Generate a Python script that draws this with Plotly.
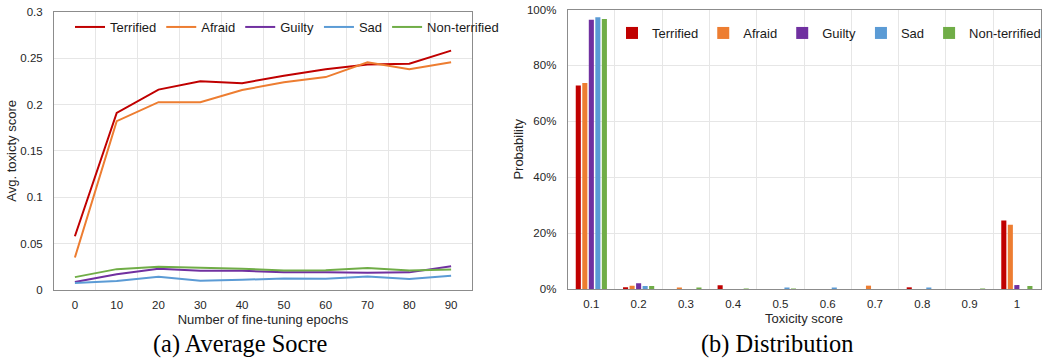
import plotly.graph_objects as go

# ---------------- data ----------------
epochs = [0, 10, 20, 30, 40, 50, 60, 70, 80, 90]
terrified_avg = [0.058, 0.191, 0.216, 0.225, 0.223, 0.231, 0.238, 0.243, 0.244, 0.258]
afraid_avg = [0.035, 0.182, 0.2025, 0.2025, 0.2155, 0.224, 0.2295, 0.2455, 0.238, 0.2455]
guilty_avg = [0.0086, 0.017, 0.023, 0.0207, 0.0207, 0.019, 0.019, 0.0186, 0.019, 0.0257]
sad_avg = [0.0075, 0.0096, 0.0143, 0.010, 0.011, 0.0125, 0.012, 0.0146, 0.0118, 0.0154]
nonterrified_avg = [0.0139, 0.0225, 0.025, 0.0243, 0.023, 0.021, 0.0214, 0.0236, 0.021, 0.022]

score_bins = ["0.1", "0.2", "0.3", "0.4", "0.5", "0.6", "0.7", "0.8", "0.9", "1"]
terrified_dist = [0.728, 0.006, 0.0, 0.013, 0.0, 0.0, 0.0, 0.006, 0.0, 0.245]
afraid_dist = [0.737, 0.012, 0.005, 0.0, 0.0, 0.0, 0.012, 0.0, 0.0, 0.230]
guilty_dist = [0.963, 0.021, 0.0, 0.0, 0.0, 0.0, 0.0, 0.0, 0.0, 0.014]
sad_dist = [0.972, 0.011, 0.0, 0.0, 0.004, 0.004, 0.0, 0.004, 0.0, 0.0]
nonterrified_dist = [0.966, 0.011, 0.002, 0.001, 0.001, 0.0, 0.0, 0.0, 0.001, 0.011]

series_names = ["Terrified", "Afraid", "Guilty", "Sad", "Non-terrified"]
colors = ["#C00000", "#ED7D31", "#7030A0", "#5B9BD5", "#70AD47"]

avg_series = [terrified_avg, afraid_avg, guilty_avg, sad_avg, nonterrified_avg]
dist_series = [terrified_dist, afraid_dist, guilty_dist, sad_dist, nonterrified_dist]

# ---------------- figure ----------------
W, H = 1042, 358
fig = go.Figure()

for name, col, vals in zip(series_names, colors, avg_series):
    fig.add_trace(go.Scatter(
        x=epochs, y=vals, name=name, mode="lines",
        line=dict(color=col, width=2),
        xaxis="x", yaxis="y", legend="legend",
    ))

for name, col, vals in zip(series_names, colors, dist_series):
    fig.add_trace(go.Bar(
        x=score_bins, y=vals, name=name,
        marker=dict(color=col, line=dict(width=0)),
        xaxis="x2", yaxis="y2", legend="legend2",
    ))

def px_x(v):
    return v / W

def px_y(v):
    return 1 - v / H

tick_font = dict(family="Liberation Sans, Arial, sans-serif", size=11.5, color="#262626")
title_font = dict(family="Liberation Sans, Arial, sans-serif", size=13, color="#262626")
grid_col = "#E6E6E6"
line_col = "#8C8C8C"

fig.update_layout(
    width=W, height=H,
    margin=dict(l=0, r=0, t=0, b=0, autoexpand=False),
    paper_bgcolor="white", plot_bgcolor="white",
    barmode="group", bargap=0.31, bargroupgap=0.22,
    showlegend=True,
    xaxis=dict(
        domain=[px_x(54), px_x(472)],
        range=[-5, 95], tickmode="array", tickvals=epochs,
        showgrid=False, zeroline=False,
        minor=dict(tick0=5, dtick=10, showgrid=True, gridcolor=grid_col, gridwidth=1),
        showline=True, linecolor=line_col, linewidth=1, mirror=True,
        ticks="", tickfont=tick_font, ticklabelstandoff=4,
        title=dict(text="Number of fine-tuning epochs", font=title_font, standoff=5),
        anchor="y", automargin=False,
    ),
    yaxis=dict(
        domain=[px_y(290), px_y(11.7)],
        range=[0, 0.3], tickmode="array",
        tickvals=[0, 0.05, 0.1, 0.15, 0.2, 0.25, 0.3],
        ticktext=["0", "0.05", "0.1", "0.15", "0.2", "0.25", "0.3"],
        showgrid=True, gridcolor=grid_col, zeroline=False,
        showline=True, linecolor=line_col, linewidth=1, mirror=True,
        ticks="", tickfont=tick_font, ticklabelstandoff=8,
        title=dict(text="Avg. toxicty score", font=title_font, standoff=0),
        anchor="x", automargin=False,
    ),
    xaxis2=dict(
        domain=[px_x(567.7), px_x(1040.5)],
        type="category", tickson="boundaries",
        showgrid=True, gridcolor=grid_col, zeroline=False,
        showline=True, linecolor=line_col, linewidth=1, mirror=True,
        ticks="", tickfont=tick_font, ticklabelstandoff=4,
        title=dict(text="Toxicity score", font=title_font, standoff=5),
        anchor="y2", automargin=False,
    ),
    yaxis2=dict(
        domain=[px_y(289), px_y(9.5)],
        range=[0, 1.0], tickmode="array",
        tickvals=[0, 0.2, 0.4, 0.6, 0.8, 1.0], tickformat=".0%",
        showgrid=True, gridcolor=grid_col, zeroline=False,
        showline=True, linecolor=line_col, linewidth=1, mirror=True,
        ticks="", tickfont=tick_font, ticklabelstandoff=8,
        title=dict(text="Probability", font=title_font, standoff=0),
        anchor="x2", automargin=False,
    ),
    legend=dict(
        orientation="h", x=px_x(70), xanchor="left",
        y=px_y(27), yanchor="middle",
        font=dict(family="Liberation Sans, Arial, sans-serif", size=13, color="#1a1a1a"),
        bgcolor="rgba(0,0,0,0)", itemwidth=30, tracegroupgap=0,
    ),
    legend2=dict(
        orientation="h", x=px_x(612), xanchor="left",
        y=px_y(33), yanchor="middle",
        font=dict(family="Liberation Sans, Arial, sans-serif", size=13, color="#1a1a1a"),
        bgcolor="rgba(0,0,0,0)", itemwidth=30, tracegroupgap=0,
    ),
)

caption_font = dict(family="Liberation Serif, Times New Roman, serif", size=24.4, color="#000000")
fig.add_annotation(text="(a) Average Socre", x=px_x(240), y=px_y(344),
                   xref="paper", yref="paper", showarrow=False,
                   xanchor="center", yanchor="middle", font=caption_font)
fig.add_annotation(text="(b) Distribution", x=px_x(777), y=px_y(344),
                   xref="paper", yref="paper", showarrow=False,
                   xanchor="center", yanchor="middle", font=caption_font)

fig.write_html(
    "out.html",
    config={"displayModeBar": False},
    post_script="document.body.style.margin='0';document.body.style.overflow='hidden';",
)
